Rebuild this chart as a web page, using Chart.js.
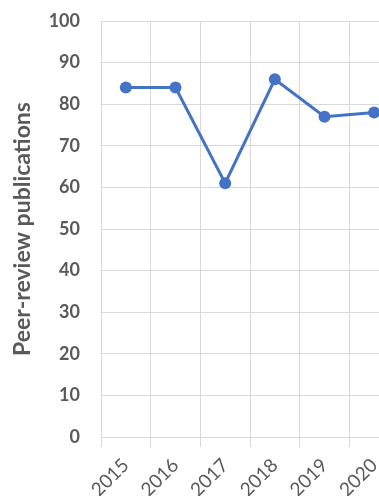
<!DOCTYPE html>
<html>
<head>
<meta charset="utf-8">
<script src="https://cdn.jsdelivr.net/npm/chart.js@4/dist/chart.umd.min.js"></script>
<style>
  html, body { margin: 0; padding: 0; background: #fff; overflow: hidden; }
  #wrap { width: 379px; height: 496px; overflow: hidden; }
  canvas { display: block; }
</style>
</head>
<body>
<div id="wrap"><canvas id="c" width="403" height="496"></canvas></div>
<script>
// Peer-review publications per year
const years = ['2015', '2016', '2017', '2018', '2019', '2020'];
const publications = [84, 84, 61, 86, 77, 78];
const yTicks = [0, 10, 20, 30, 40, 50, 60, 70, 80, 90, 100];

const textColor = '#595959';
const gridColor = '#d9d9d9';
const lineColor = '#4472C4';

new Chart(document.getElementById('c'), {
  type: 'line',
  data: {
    labels: years,
    datasets: [{
      data: publications,
      borderColor: lineColor,
      backgroundColor: lineColor,
      borderWidth: 3,
      pointRadius: 6,
      pointHoverRadius: 6,
      pointBorderWidth: 0,
      tension: 0,
      clip: false
    }]
  },
  options: {
    responsive: false,
    animation: false,
    devicePixelRatio: 1,
    layout: { autoPadding: false, padding: { top: 21, right: 4, bottom: 0, left: 0 } },
    plugins: { legend: { display: false }, tooltip: { enabled: false } },
    scales: {
      x: {
        type: 'category',
        offset: true,
        grid: { color: gridColor, lineWidth: 1, offset: true, drawTicks: true, tickLength: 10 },
        border: { color: gridColor, width: 1 },
        ticks: {
          color: textColor,
          font: { family: 'Lato', size: 19 },
          minRotation: 45,
          maxRotation: 45,
          padding: 7,
          autoSkip: false
        },
        afterFit: s => { s.height = 59; s.paddingLeft = 0; s.paddingRight = 0; }
      },
      y: {
        min: 0,
        max: 100,
        afterBuildTicks: s => { s.ticks = yTicks.map(v => ({ value: v })); },
        grid: { color: gridColor, lineWidth: 1, drawTicks: false },
        border: { color: gridColor, width: 1 },
        ticks: {
          color: textColor,
          font: { family: 'Lato', size: 18, weight: 'bold' },
          padding: 21
        },
        title: {
          display: true,
          text: 'Peer-review publications',
          color: textColor,
          font: { family: 'Lato', size: 23, weight: 'bold' },
          padding: { top: 9, bottom: 0 }
        },
        afterFit: s => { s.width = 101; s.paddingTop = 0; s.paddingBottom = 0; }
      }
    }
  }
});
</script>
</body>
</html>
